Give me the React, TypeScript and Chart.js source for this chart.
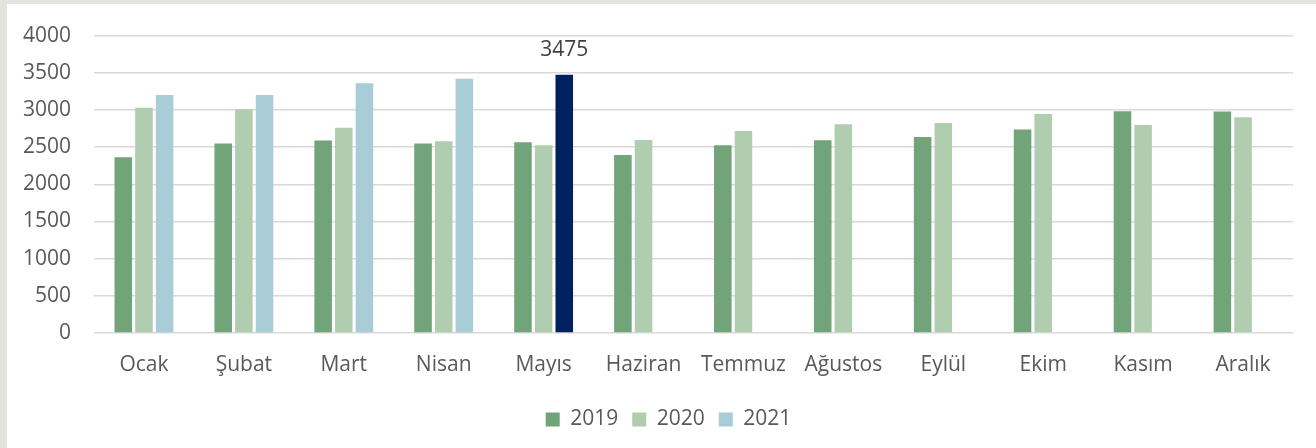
import React, { useEffect, useRef } from "react";
import { Chart, registerables } from "chart.js";

Chart.register(...registerables);

const months = ["Ocak", "Şubat", "Mart", "Nisan", "Mayıs", "Haziran", "Temmuz", "Ağustos", "Eylül", "Ekim", "Kasım", "Aralık"];
const values2019 = [2365, 2550, 2590, 2550, 2565, 2395, 2525, 2592, 2636, 2738, 2983, 2980];
const values2020 = [3030, 3005, 2760, 2580, 2525, 2596, 2716, 2809, 2823, 2947, 2796, 2903];
const values2021 = [3200, 3200, 3360, 3420, 3475, null, null, null, null, null, null, null];
const yTicks = [0, 500, 1000, 1500, 2000, 2500, 3000, 3500, 4000];
const seriesNames = ["2019", "2020", "2021"];
const highlightedMonth = "Mayıs";

const COLORS = {
  c2019: "#72A479",
  c2020: "#B0CDB0",
  c2021: "#A9CDD7",
  highlight: "#002060",
  text: "#595959",
  label: "#404040",
  grid: "#D9D9D9",
};

const FONT = "'Open Sans', 'DejaVu Sans', sans-serif";
const FS = 21;

export default function App() {
  const canvasRef = useRef<HTMLCanvasElement | null>(null);

  useEffect(() => {
    const canvas = canvasRef.current;
    if (!canvas) return;
    const hi = months.indexOf(highlightedMonth);

    const labelPlugin = {
      id: "highlightLabel",
      afterDatasetsDraw(chart: any) {
        const meta = chart.getDatasetMeta(2);
        const el = meta.data[hi];
        const v = values2021[hi];
        if (!el || v == null) return;
        const ctx = chart.ctx;
        ctx.save();
        ctx.font = `${FS}px ${FONT}`;
        ctx.fillStyle = COLORS.label;
        ctx.textAlign = "center";
        ctx.textBaseline = "middle";
        ctx.fillText(String(v), el.x, el.y - 25);
        ctx.restore();
      },
    };

    const legendShift = {
      id: "legendShift",
      afterLayout(chart: any) {
        if (chart.legend) {
          chart.legend.left += 44;
        }
      },
    };

    const chart = new Chart(canvas, {
      type: "bar",
      data: {
        labels: months,
        datasets: [
          {
            label: seriesNames[0],
            data: values2019,
            backgroundColor: COLORS.c2019,
            categoryPercentage: 0.62,
            barPercentage: 0.85,
          },
          {
            label: seriesNames[1],
            data: values2020,
            backgroundColor: COLORS.c2020,
            categoryPercentage: 0.62,
            barPercentage: 0.85,
          },
          {
            label: seriesNames[2],
            data: values2021,
            backgroundColor: months.map((_, i) => (i === hi ? COLORS.highlight : COLORS.c2021)),
            categoryPercentage: 0.62,
            barPercentage: 0.85,
          },
        ],
      },
      options: {
        animation: false,
        responsive: false,
        maintainAspectRatio: false,
        layout: { padding: { left: 0, right: 23, top: 33, bottom: 8 } },
        plugins: {
          tooltip: { enabled: false },
          legend: {
            position: "bottom",
            labels: {
              boxWidth: 14,
              boxHeight: 14,
              padding: 14,
              color: COLORS.text,
              font: { family: FONT, size: FS },
              generateLabels: (ch: any) =>
                ch.data.datasets.map((ds: any, i: number) => ({
                  text: ds.label,
                  fillStyle: [COLORS.c2019, COLORS.c2020, COLORS.c2021][i],
                  strokeStyle: "rgba(0,0,0,0)",
                  lineWidth: 0,
                  fontColor: COLORS.text,
                  hidden: false,
                  datasetIndex: i,
                })),
            },
          },
        },
        scales: {
          x: {
            grid: { display: false, drawTicks: false },
            border: { display: false },
            ticks: {
              color: COLORS.text,
              font: { family: FONT, size: FS },
              padding: 19,
              maxRotation: 0,
              autoSkip: false,
            },
            afterFit: (s: any) => {
              s.height = 62;
            },
          },
          y: {
            min: 0,
            max: 4000,
            afterBuildTicks: (s: any) => {
              s.ticks = yTicks.map((v) => ({ value: v }));
            },
            grid: { color: COLORS.grid, lineWidth: 1.5, drawTicks: false },
            border: { display: false },
            ticks: {
              color: COLORS.text,
              font: { family: FONT, size: FS },
              padding: 23,
              callback: (v: any) => String(v),
            },
            afterFit: (s: any) => {
              s.width = 94;
            },
          },
        },
      },
      plugins: [labelPlugin, legendShift],
    });
    return () => chart.destroy();
  }, []);

  return (
    <div style={{ position: "fixed", left: 0, top: 0, width: 1316, height: 448, background: "#E3E3DE" }}>
      <div style={{ position: "absolute", left: 7, top: 4, right: 0, bottom: 0, background: "#FFFFFF" }} />
      <canvas ref={canvasRef} width={1316} height={448} style={{ position: "absolute", left: 0, top: 0, width: 1316, height: 448 }} />
    </div>
  );
}
